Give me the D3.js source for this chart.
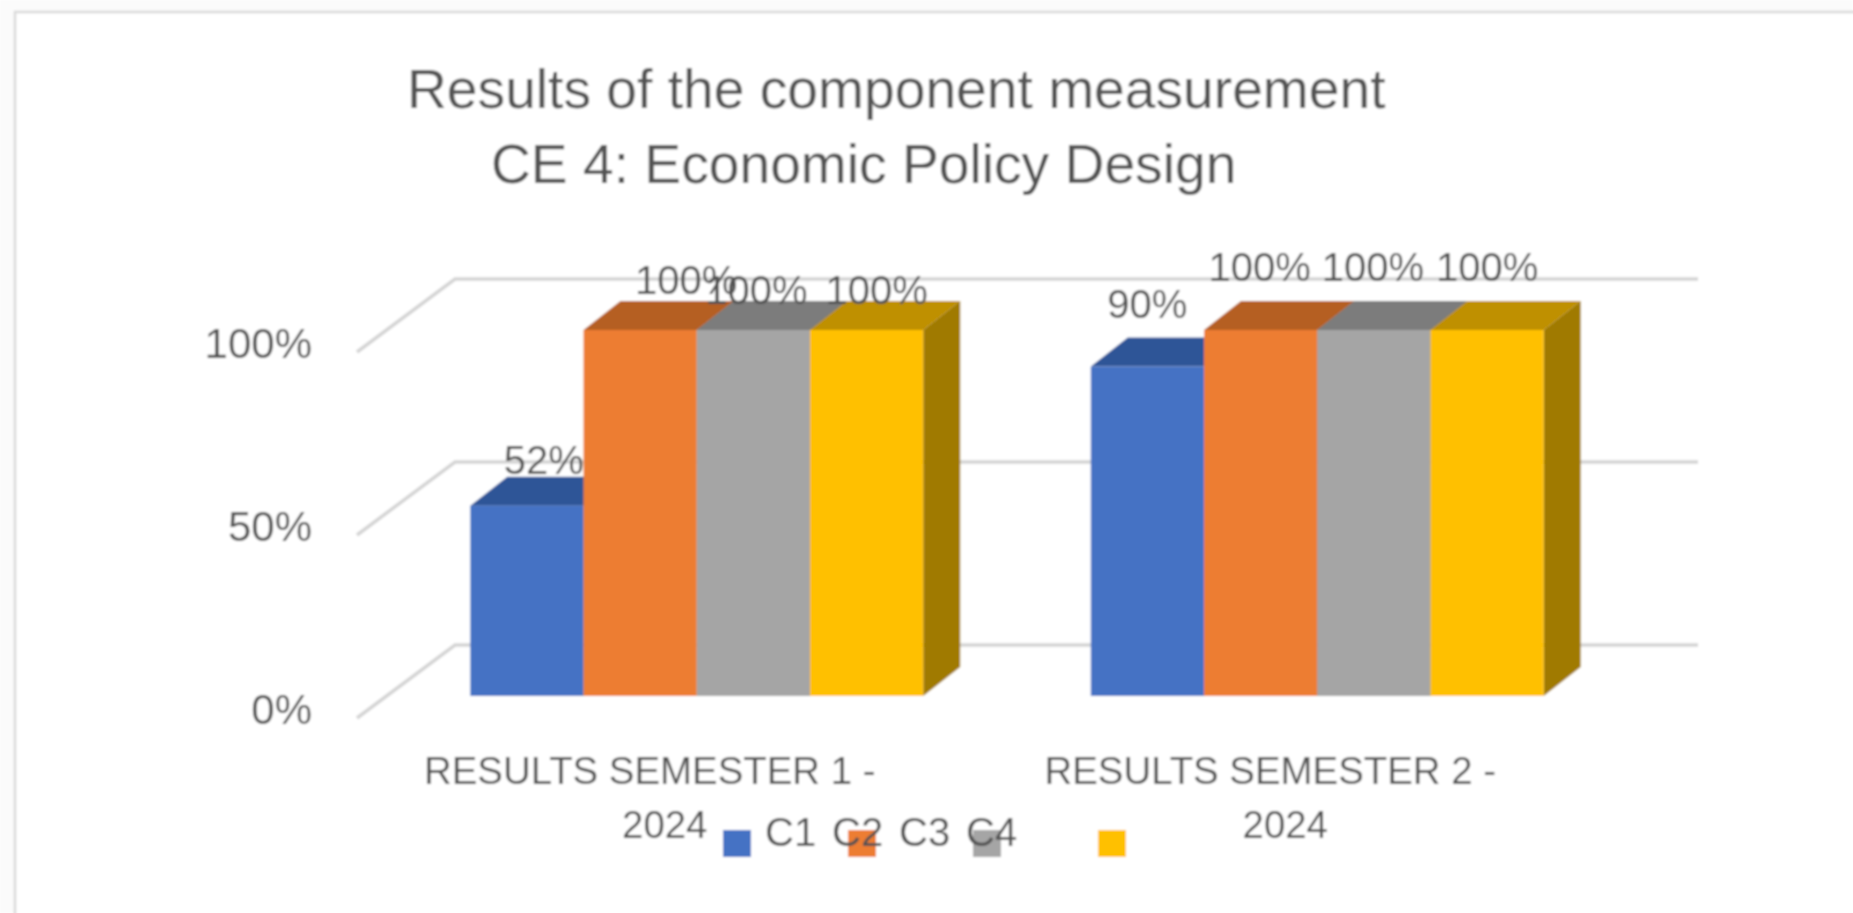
<!DOCTYPE html>
<html>
<head>
<meta charset="utf-8">
<title>Results of the component measurement</title>
<script src="https://cdn.jsdelivr.net/npm/d3@7"></script>
<style>
  html, body { margin: 0; padding: 0; background: #fff; overflow: hidden; }
  svg { display: block; font-family: "Liberation Sans", Arial, sans-serif; }
  text { fill: #525252; }
</style>
</head>
<body>
<div id="chart"></div>
<script>
// the data
const categories = ["RESULTS SEMESTER 1 -", "RESULTS SEMESTER 2 -"];
const categoryYear = ["2024", "2024"];
const seriesNames = ["C1", "C2", "C3", "C4"];
const c1Values = [0.52, 0.90];
const c2Values = [1, 1];
const c3Values = [1, 1];
const c4Values = [1, 1];
const yTicks = [0, 0.5, 1];
const titleLines = ["Results of the component measurement", "CE 4: Economic Policy Design"];

const seriesValues = [c1Values, c2Values, c3Values, c4Values];

// colours: front, top, side of each bar
const frontColors = ["#4472c4", "#ed7d31", "#a5a5a5", "#ffc000"];
const topColors = ["#2f5597", "#b55e22", "#7c7c7c", "#bf9000"];
const sideColors = ["#264478", "#9e5a24", "#636363", "#a07a00"];

const width = 1853;
const height = 913;

const svg = d3.select("#chart")
  .append("svg")
    .attr("width", width)
    .attr("height", height);

svg.append("defs")
  .append("filter")
    .attr("id", "soft")
    .attr("x", 0).attr("y", 0).attr("width", 1).attr("height", 1)
    .attr("filterUnits", "objectBoundingBox")
  .append("feGaussianBlur")
    .attr("stdDeviation", 0.8);

const root = svg.append("g").attr("filter", "url(#soft)");

// backdrop and the frame of the chart, it runs off the picture right and bottom
root.append("rect").attr("width", width).attr("height", height).attr("fill", "#fbfbfb");
root.append("rect")
  .attr("x", 15).attr("y", 12)
  .attr("width", width).attr("height", height)
  .attr("fill", "#fff")
  .attr("stroke", "#d9d9d9")
  .attr("stroke-width", 2.5);

// scales
const x0 = d3.scaleBand()
  .domain(categories)
  .range([386.5, 1627.5])
  .paddingInner(0.27)
  .paddingOuter(0.135);

const x1 = d3.scaleBand()
  .domain(seriesNames)
  .range([0, x0.bandwidth()]);

const y = d3.scaleLinear()
  .domain([0, 1])
  .range([696, 330]);

// 3d depth of the bars
const depthX = 37;
const depthY = -29;

// gridlines sit on the back wall, with a diagonal on the side wall
const floorFrontX = 357;
const floorBackX = 455;
const floorFrontDy = 22;
const floorBackDy = -51;
const gridRight = 1698;

root.append("g")
  .selectAll("polyline")
  .data(yTicks)
  .join("polyline")
    .attr("points", d => [
      [floorFrontX, y(d) + floorFrontDy],
      [floorBackX, y(d) + floorBackDy],
      [gridRight, y(d) + floorBackDy]
    ].join(" "))
    .attr("fill", "none")
    .attr("stroke", "#d4d4d4")
    .attr("stroke-width", 3.5);

// y axis
const yAxis = d3.axisLeft(y)
  .tickValues(yTicks)
  .tickSize(0)
  .tickPadding(0)
  .tickFormat(d3.format(".0%"));

const yAxisGroup = root.append("g")
  .attr("transform", "translate(312,14)")
  .call(yAxis);
yAxisGroup.select(".domain").remove();
yAxisGroup.selectAll("text")
  .attr("font-family", "Liberation Sans")
  .attr("font-size", 42);

// bars, drawn series by series so the next front covers the side before it
const bars = [];
seriesNames.forEach((name, s) => {
  categories.forEach((cat, c) => {
    bars.push({ name, s, cat, c, value: seriesValues[s][c] });
  });
});

const barX = d => x0(d.cat) + x1(d.name);
const barW = x1.bandwidth();

const barGroups = root.append("g")
  .selectAll("g")
  .data(bars)
  .join("g");

barGroups.append("polygon")
  .attr("points", d => [
    [barX(d), y(d.value)],
    [barX(d) + depthX, y(d.value) + depthY],
    [barX(d) + barW + depthX, y(d.value) + depthY],
    [barX(d) + barW, y(d.value)]
  ].join(" "))
  .attr("fill", d => topColors[d.s]);

barGroups.append("polygon")
  .attr("points", d => [
    [barX(d) + barW, y(d.value)],
    [barX(d) + barW + depthX, y(d.value) + depthY],
    [barX(d) + barW + depthX, y(0) + depthY],
    [barX(d) + barW, y(0)]
  ].join(" "))
  .attr("fill", d => sideColors[d.s]);

barGroups.append("rect")
  .attr("x", d => barX(d))
  .attr("y", d => y(d.value))
  .attr("width", barW)
  .attr("height", d => y(0) - y(d.value))
  .attr("fill", d => frontColors[d.s]);

// the labels were dragged by hand in the original, so each has its own nudge
// [series][category] -> [dx, dy] from the top centre of the bar
const labelNudges = [
  [[17, -32], [0, -49]],
  [[46, -36], [-1, -49]],
  [[3, -26], [-1, -49]],
  [[10, -26], [0, -49]]
];

root.append("g")
  .selectAll("text")
  .data(bars)
  .join("text")
    .attr("x", d => barX(d) + barW / 2 + labelNudges[d.s][d.c][0])
    .attr("y", d => y(d.value) + labelNudges[d.s][d.c][1])
    .attr("text-anchor", "middle")
    .attr("font-size", 40)
    .text(d => d3.format(".0%")(d.value));

// category labels on two lines
const catCentre = d => x0(d) + x0.bandwidth() / 2;

root.append("g")
  .selectAll("text")
  .data(categories)
  .join("text")
    .attr("x", d => catCentre(d) - 47)
    .attr("y", 784)
    .attr("text-anchor", "middle")
    .attr("font-size", 38.4)
    .text(d => d);

root.append("g")
  .selectAll("text")
  .data(categories)
  .join("text")
    .attr("x", d => catCentre(d) - 32)
    .attr("y", 838)
    .attr("text-anchor", "middle")
    .attr("font-size", 38.4)
    .text((d, i) => categoryYear[i]);

// legend, the swatches and names have drifted apart like in the original
const swatchX = d3.scalePoint().domain(seriesNames).range([723, 1098]);
const legendTextX = d3.scalePoint().domain(seriesNames).range([765, 966]);

root.append("g")
  .selectAll("rect")
  .data(seriesNames)
  .join("rect")
    .attr("x", d => swatchX(d))
    .attr("y", 830)
    .attr("width", 28)
    .attr("height", 27)
    .attr("fill", (d, i) => frontColors[i]);

root.append("g")
  .selectAll("text")
  .data(seriesNames)
  .join("text")
    .attr("x", d => legendTextX(d))
    .attr("y", 846)
    .attr("font-size", 40)
    .text(d => d);

// title
root.append("g")
  .selectAll("text")
  .data(titleLines)
  .join("text")
    .attr("x", (d, i) => i === 0 ? 407 : 491)
    .attr("y", (d, i) => i === 0 ? 108 : 183)
    .attr("font-size", 55.2)
    .text(d => d);
</script>
</body>
</html>
